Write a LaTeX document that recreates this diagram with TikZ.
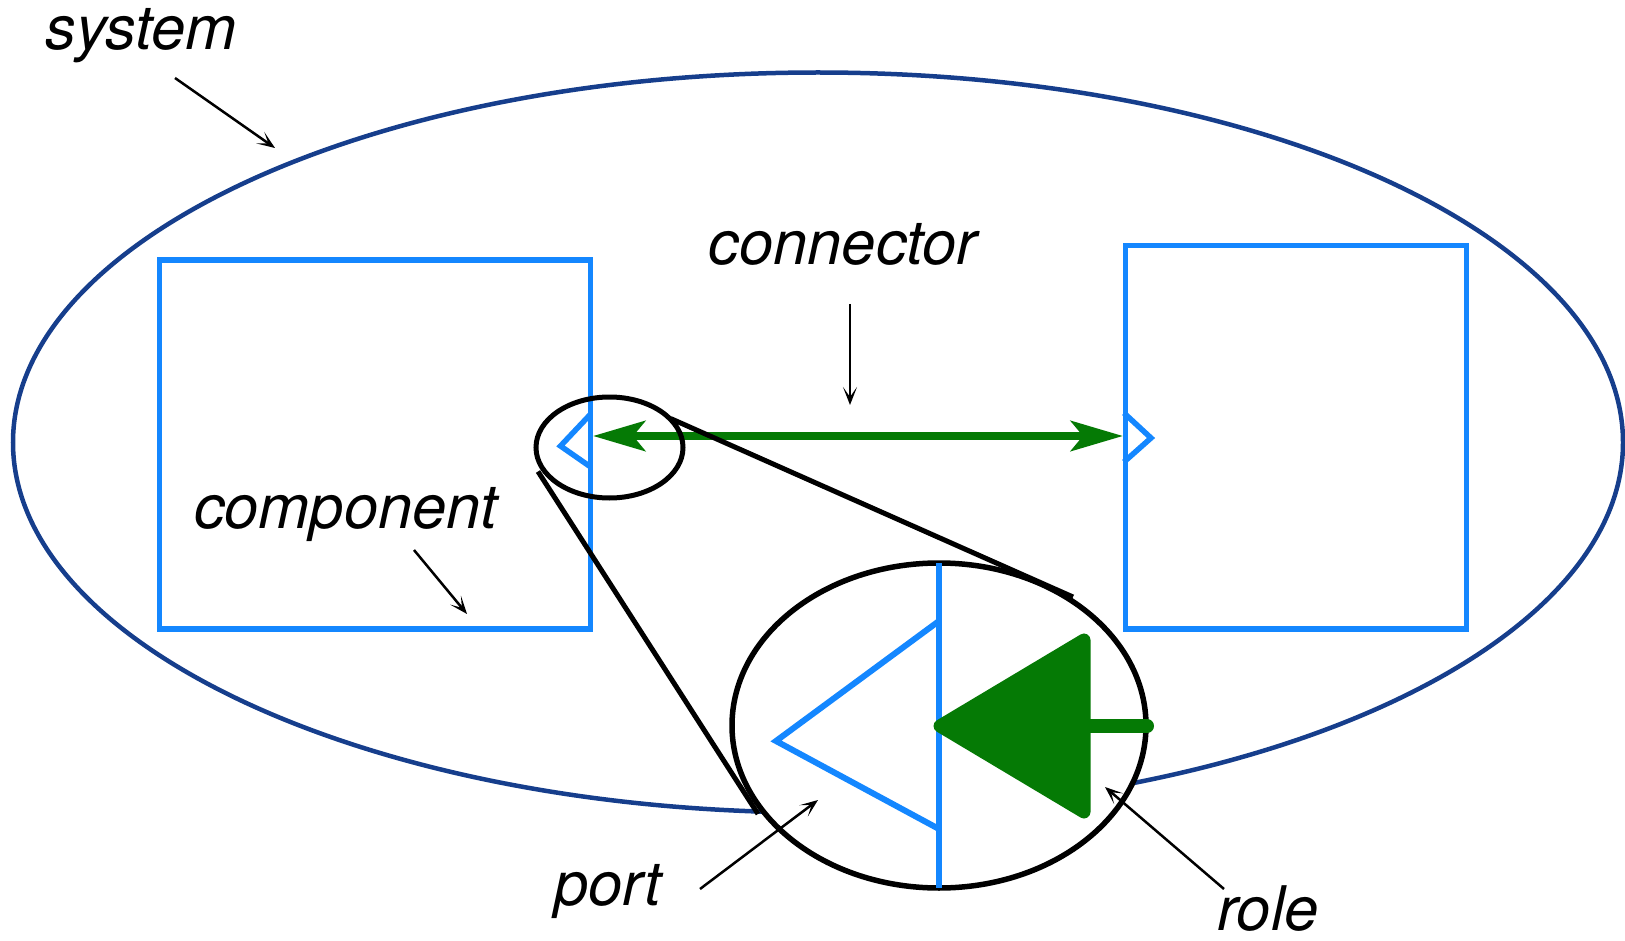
\documentclass[tikz,border=0pt]{standalone}
\usepackage{fontspec}
\setmainfont{TeX Gyre Heros}
\usetikzlibrary{arrows.meta,shapes.geometric}
\definecolor{sysblue}{RGB}{22,62,140}
\definecolor{compblue}{RGB}{20,135,255}
\definecolor{conngreen}{RGB}{5,122,5}
\tikzset{
  lbl/.style={anchor=base, inner sep=0pt, font=\fontsize{61.5}{70}\selectfont\itshape},
  compbox/.style={draw=compblue, line width=5.5pt, inner sep=0pt},
  portline/.style={draw=compblue, line width=5.5pt, line join=miter},
  note/.style={draw=black, line width=2.5pt, -{Stealth[length=18pt,width=14pt,inset=10pt]}},
  conn/.style={draw=conngreen, line width=8.5pt,
     {Stealth[length=52pt,width=30pt,inset=12pt]}-{Stealth[length=52pt,width=30pt,inset=12pt]}},
  lens/.style={draw=black, ellipse, inner sep=0pt},
}
\begin{document}
\begin{tikzpicture}[x=1pt,y=-1pt]
\useasboundingbox (0,0) rectangle (1625,941);
% system
\node[draw=sysblue, line width=4.5pt, ellipse, minimum width=1610pt, minimum height=740pt, inner sep=0pt] (sys) at (818,442.5) {};
% components
\node[compbox, minimum width=431pt, minimum height=369pt] (compL) at (375.2,444.5) {};
\node[compbox, minimum width=341pt, minimum height=383.4pt] (compR) at (1295.9,437.3) {};
% ports
\coordinate (lpT) at (590.7,414); \coordinate (lpA) at (560.5,446); \coordinate (lpB) at (590.7,467);
\draw[portline] (lpT) -- (lpA) -- (lpB);
\coordinate (rpT) at (1124,413); \coordinate (rpA) at (1151,438); \coordinate (rpB) at (1124,462);
\draw[portline] (rpT) -- (rpA) -- (rpB);
% connector
\coordinate (cL) at (593,436); \coordinate (cR) at (1123,436);
\draw[conn] (cL) -- (cR);
% small lens
\node[lens, line width=5pt, minimum width=147pt, minimum height=101pt] (small) at (609.5,447.5) {};
% big lens
\node[lens, line width=5.5pt, fill=white, minimum width=414pt, minimum height=325pt] (big) at (939,725.5) {};
% magnifier lines
\coordinate (m1a) at (670.5,418.5); \coordinate (m1b) at (1073,597);
\coordinate (m2a) at (538,471.5); \coordinate (m2b) at (758,814);
\draw[line width=5pt] (m1a) -- (m1b);
\draw[line width=5pt] (m2a) -- (m2b);
% inside big lens
\coordinate (vT) at (939,563); \coordinate (vB) at (939,888);
\draw[draw=compblue, line width=6pt] (vT) -- (vB);
\coordinate (bpT) at (939,621); \coordinate (bpA) at (776,741); \coordinate (bpB) at (939,829);
\draw[portline, line width=6pt] (bpT) -- (bpA) -- (bpB);
\coordinate (gA) at (940,726); \coordinate (gT) at (1084,640); \coordinate (gB) at (1084,812);
\coordinate (gS) at (1147,726); \coordinate (gM) at (1084,726);
\draw[draw=conngreen, fill=conngreen, line width=13pt, line join=round] (gA) -- (gT) -- (gB) -- cycle;
\draw[draw=conngreen, line width=14pt, line cap=round] (gM) -- (gS);
% labels
\node[lbl] (tsys) at (141,50) {system};
\node[lbl] (tconn) at (843,265) {connector};
\node[lbl] (tcomp) at (346,528) {component};
\node[lbl] (tport) at (608,905) {port};
\node[lbl] (trole) at (1268,930) {role};
% annotation arrows
\coordinate (a1s) at (175,78); \coordinate (a1e) at (275,148);
\coordinate (a2s) at (850,304); \coordinate (a2e) at (850,405);
\coordinate (a3s) at (414,550); \coordinate (a3e) at (467,614);
\coordinate (a4s) at (700,889); \coordinate (a4e) at (818,800);
\coordinate (a5s) at (1224,889); \coordinate (a5e) at (1105,787);
\draw[note] (a1s) -- (a1e);
\draw[note] (a2s) -- (a2e);
\draw[note] (a3s) -- (a3e);
\draw[note] (a4s) -- (a4e);
\draw[note] (a5s) -- (a5e);
\end{tikzpicture}
\end{document}
